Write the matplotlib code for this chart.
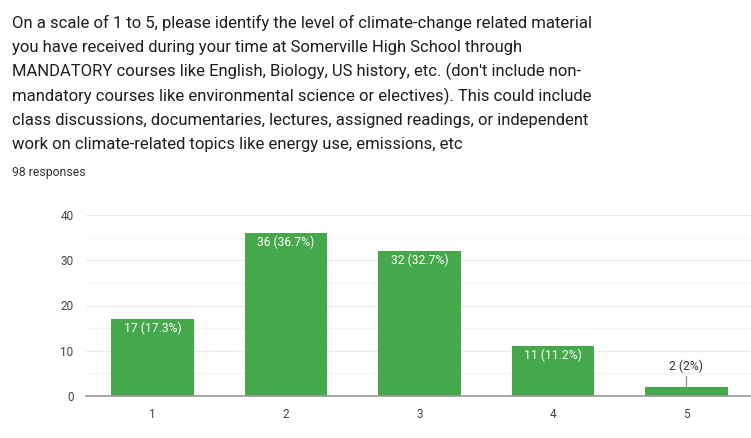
import matplotlib
matplotlib.use("Agg")
from matplotlib import pyplot as plt

categories = ["1", "2", "3", "4", "5"]
counts = [17, 36, 32, 11, 2]
percents = ["17.3%", "36.7%", "32.7%", "11.2%", "2%"]

question_lines = [
    "On a scale of 1 to 5, please identify the level of climate-change related material",
    "you have received during your time at Somerville High School through",
    "MANDATORY courses like English, Biology, US history, etc. (don't include non-",
    "mandatory courses like environmental science or electives). This could include",
    "class discussions, documentaries, lectures, assigned readings, or independent",
    "work on climate-related topics like energy use, emissions, etc",
]

plt.rcParams['font.family'] = ['Roboto', 'DejaVu Sans']

fig = plt.figure(figsize=(7.51, 4.38), dpi=100)
# one text per line so the spacing stays even
for i, line in enumerate(question_lines):
    fig.text(12 / 751, 1 - (28 + 24.3 * i) / 438, line, ha="left", va="baseline",
             fontsize=12, color="#1e1e1e")
fig.text(12 / 751, 1 - 166 / 438, "98 responses", ha="left", va="top", fontsize=8.8,
         color="#333333")

ax = fig.add_axes([86 / 751, 42 / 438, 667 / 751, 181 / 438])
x = list(range(1, len(categories) + 1))
bars = ax.bar(x, counts, width=0.62, color="#46a84c", zorder=3)

ax.set_xlim(0.5, 5.5)
ax.set_ylim(0, 40)
ax.set_yticks([0, 10, 20, 30, 40])
ax.set_yticks([5, 15, 25, 35], minor=True)
ax.set_xticks(x)
ax.set_xticklabels(categories)
ax.grid(axis="y", which="major", color="#ebebeb", linewidth=1, zorder=0)
ax.grid(axis="y", which="minor", color="#f5f5f5", linewidth=1, zorder=0)
ax.tick_params(axis="both", which="both", length=0, labelsize=8.5, colors="#444444")
ax.tick_params(axis="x", pad=9)
ax.tick_params(axis="y", pad=9)
for s in ["top", "right", "left"]:
    ax.spines[s].set_visible(False)
ax.spines["bottom"].set_color("#999999")
ax.spines["bottom"].set_linewidth(1.2)
ax.spines["bottom"].set_zorder(4)

for xi, c, p in zip(x, counts, percents):
    label = f"{c} ({p})"
    if c >= 5:
        ax.text(xi, c - 0.6, label, ha="center", va="top", fontsize=8.7, color="white", zorder=5)
    else:
        ax.plot([xi, xi], [c, c + 2.5], color="#999999", linewidth=1, zorder=4)
        ax.text(xi, c + 3.0, label, ha="center", va="bottom", fontsize=8.7, color="#333333", zorder=5)

fig.savefig("out.png", dpi=100)
